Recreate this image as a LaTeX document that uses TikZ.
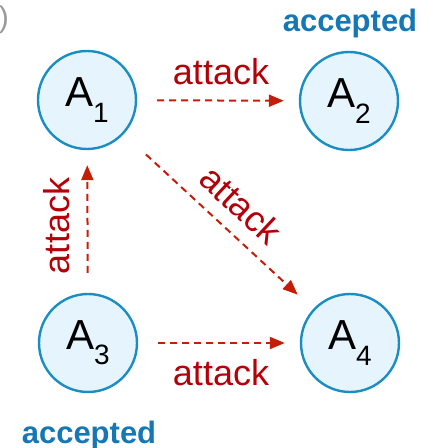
\documentclass[tikz,border=0pt]{standalone}
\usepackage{fontspec}
\setmainfont{Liberation Sans}
\usetikzlibrary{arrows.meta}

\definecolor{argfill}{RGB}{230,245,253}
\definecolor{argline}{RGB}{26,142,194}
\definecolor{attline}{RGB}{196,30,10}
\definecolor{atttext}{RGB}{180,0,8}
\definecolor{accblue}{RGB}{21,119,180}

\tikzset{
  argument/.style={circle, draw=argline, fill=argfill, line width=2.4pt,
    minimum size=98pt, inner sep=0pt, font=\fontsize{42}{42}\selectfont},
  attackedge/.style={draw=attline, line width=2pt, dash pattern=on 7pt off 5pt,
    -{Triangle[length=15pt,width=12pt,fill=attline]}, shorten <=20pt, shorten >=15pt},
  attacklabel/.style={text=atttext, inner sep=0pt, font=\fontsize{36}{36}\selectfont},
  acclabel/.style={text=accblue, inner sep=0pt, font=\fontsize{31}{31}\selectfont\bfseries}
}
\newcommand{\argname}[1]{A\raisebox{-0.36em}{\fontsize{28}{28}\selectfont #1}}

\begin{document}
\begin{tikzpicture}[x=1pt, y=1pt]
  \useasboundingbox (0,0) rectangle (433,448);

  % stray closing parenthesis at the upper left
  \node[text=gray!80, anchor=base east, inner sep=0pt, font=\fontsize{30}{30}\selectfont] (paren) at (9,420) {)};

  % arguments
  \node[argument] (a1) at (87,348) {\argname{1}};
  \node[argument] (a2) at (349,347) {\argname{2}};
  \node[argument] (a3) at (88,105) {\argname{3}};
  \node[argument] (a4) at (350,105) {\argname{4}};

  % acceptance marks
  \node[acclabel, anchor=base] (acc2) at (350,416) {accepted};
  \node[acclabel, anchor=base] (acc3) at (89,5) {accepted};

  % attack relations
  \draw[attackedge] (a1) -- (a2);
  \draw[attackedge] (a3) -- (a4);
  \draw[attackedge] (a3) -- (a1);
  \draw[attackedge, shorten <=30pt, shorten >=21pt] (a1) -- (a4);

  % attack labels
  \node[attacklabel, anchor=base] (l12) at (221,363) {attack};
  \node[attacklabel, anchor=base] (l34) at (221,63) {attack};
  \node[attacklabel, anchor=base, rotate=90] (l31) at (70,222) {attack};
  \node[attacklabel] (l14) at (241,243) {\rotatebox{-43}{attack}};
\end{tikzpicture}
\end{document}
